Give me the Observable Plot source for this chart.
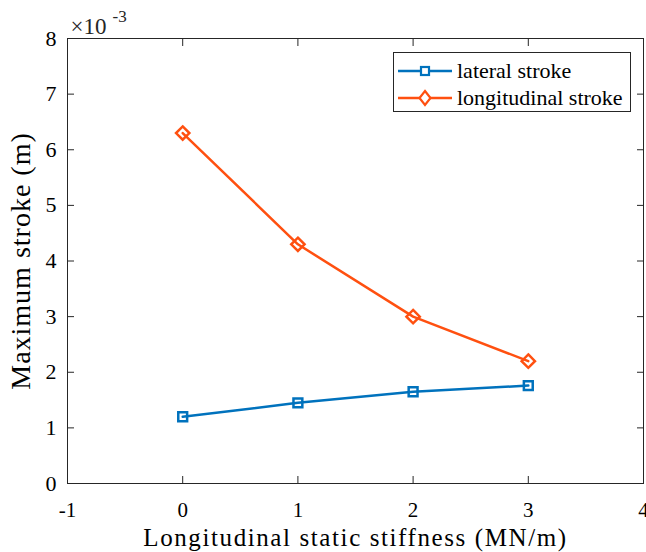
<!DOCTYPE html>
<html>
<head>
<meta charset="utf-8">
<script src="https://cdn.jsdelivr.net/npm/d3@7"></script>
<script src="https://cdn.jsdelivr.net/npm/@observablehq/plot@0.6"></script>
<style>
  html, body { margin: 0; padding: 0; background: #fff; }
  #wrap { position: relative; width: 646px; height: 552px; font-family: "Liberation Serif", "DejaVu Serif", serif; }
  #legend { position: absolute; left: 393px; top: 52px; width: 238px; height: 60px; border: 1px solid #262626; background: #fff; box-sizing: border-box; font-size: 22px; color: #000; }
  .row { position: absolute; left: 4px; height: 26px; display: flex; align-items: center; white-space: nowrap; }
  .row svg { margin-right: 5px; }
</style>
</head>
<body>
<div id="wrap"></div>
<script>
const stiffness = [0, 1, 2, 3];
const lateral = [1.2, 1.45, 1.65, 1.76];          // ×10^-3 m
const longitudinal = [6.3, 4.3, 3.0, 2.2];        // ×10^-3 m
const seriesNames = ["lateral stroke", "longitudinal stroke"];
const seriesColors = ["#0072BD", "#FF5010"];
const xTicks = [-1, 0, 1, 2, 3, 4];
const yTicks = [0, 1, 2, 3, 4, 5, 6, 7, 8];

const latData = stiffness.map((x, i) => ({x, y: lateral[i]}));
const lonData = stiffness.map((x, i) => ({x, y: longitudinal[i]}));

const font = "'Liberation Serif', 'DejaVu Serif', serif";

const chart = Plot.plot({
  width: 646,
  height: 552,
  marginLeft: 67,
  marginRight: 3,
  marginTop: 38,
  marginBottom: 69,
  style: {fontFamily: font, background: "#fff", color: "#262626"},
  x: {domain: [-1, 4]},
  y: {domain: [0, 8]},
  marks: [
    Plot.frame({stroke: "#262626", strokeWidth: 1}),
    Plot.axisX({anchor: "bottom", ticks: xTicks, tickSize: -7, tickPadding: 26, tickFormat: d => String(d), fontSize: 21, fill: "#000",
      label: "Longitudinal static stiffness (MN/m)", labelAnchor: "center", labelArrow: "none", labelOffset: 62}),
    Plot.axisX({anchor: "top", ticks: xTicks, tickSize: -7, tickFormat: () => "", label: null}),
    Plot.axisY({anchor: "left", ticks: yTicks, tickSize: -7, tickPadding: 18, tickFormat: d => String(d), fontSize: 22, fill: "#000",
      label: "Maximum stroke (m)", labelAnchor: "center", labelArrow: "none", labelOffset: 57}),
    Plot.axisY({anchor: "right", ticks: yTicks, tickSize: -7, tickFormat: () => "", label: null}),
    Plot.line(latData, {x: "x", y: "y", stroke: seriesColors[0], strokeWidth: 2.5}),
    Plot.dot(latData, {x: "x", y: "y", symbol: "square", r: 5, stroke: seriesColors[0], strokeWidth: 2.5, fill: "none"}),
    Plot.line(lonData, {x: "x", y: "y", stroke: seriesColors[1], strokeWidth: 2.5}),
    Plot.dot(lonData, {x: "x", y: "y", symbol: "diamond2", r: 6, stroke: seriesColors[1], strokeWidth: 2.5, fill: "none"}),
    Plot.text(["×10"], {frameAnchor: "top-left", dx: 3, dy: -21, fontSize: 23, textAnchor: "start", fill: "#262626"}),
    Plot.text(["-3"], {frameAnchor: "top-left", dx: 45, dy: -29, fontSize: 17, textAnchor: "start", fill: "#262626"})
  ]
});
chart.style.fontFamily = font;
// larger axis titles
chart.querySelectorAll("[aria-label='x-axis label'] text").forEach(t => {
  t.setAttribute("font-size", 25); t.setAttribute("letter-spacing", "1.6");
});
chart.querySelectorAll("[aria-label='y-axis label'] text").forEach(t => {
  t.setAttribute("font-size", 28); t.setAttribute("letter-spacing", "1");
});
const wrap = document.getElementById("wrap");
wrap.appendChild(chart);

const legend = document.createElement("div");
legend.id = "legend";
const symSvg = (i) => i === 0
  ? `<rect x="23" y="9" width="8" height="8" fill="white" stroke="${seriesColors[0]}" stroke-width="2.2"/>`
  : `<path d="M27 6 L32.5 13 L27 20 L21.5 13 Z" fill="white" stroke="${seriesColors[1]}" stroke-width="2.2"/>`;
seriesNames.forEach((name, i) => {
  const row = document.createElement("div");
  row.className = "row";
  row.style.top = (i === 0 ? 5 : 32) + "px";
  row.innerHTML = `<svg width="54" height="26"><line x1="0" x2="54" y1="13" y2="13" stroke="${seriesColors[i]}" stroke-width="2.5"/>${symSvg(i)}</svg><span>${name}</span>`;
  legend.appendChild(row);
});
wrap.appendChild(legend);
</script>
</body>
</html>
